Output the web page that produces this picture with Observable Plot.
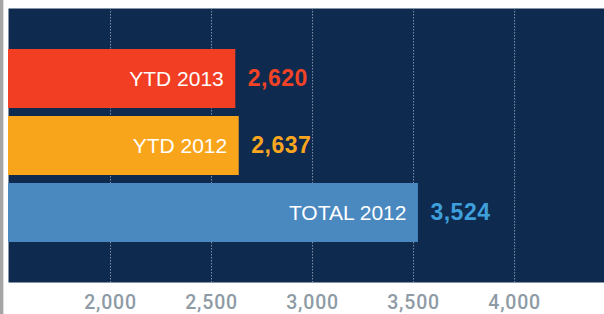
<!DOCTYPE html>
<html>
<head>
<meta charset="utf-8">
<script src="https://cdn.jsdelivr.net/npm/d3@7"></script>
<script src="https://cdn.jsdelivr.net/npm/@observablehq/plot@0.6"></script>
<style>
  html, body { margin: 0; padding: 0; background: #ffffff; }
  #wrap { position: relative; width: 604px; height: 314px; }
  #edge { position: absolute; left: 0; top: 0; width: 3px; height: 314px; background: #a5a5a5; }
  #edge2 { position: absolute; left: 3px; top: 0; width: 1px; height: 314px; background: #dedede; }
</style>
</head>
<body>
<div id="wrap"><div id="chart"></div><div id="edge"></div><div id="edge2"></div></div>
<script>
const categories = ["YTD 2013", "YTD 2012", "TOTAL 2012"];
const values = [2620, 2637, 3524];
const barColors = ["#f23e23", "#f9a51c", "#4a89bf"];
const labelColors = ["#f24326", "#f8a620", "#3f9fdb"];
const tickValues = [2000, 2500, 3000, 3500, 4000];

const navy = "#0e2a4f";
const fmt = d3.format(",");
const data = categories.map((c, i) => ({category: c, value: values[i], bar: barColors[i], label: labelColors[i]}));

const chart = Plot.plot({
  width: 604,
  height: 314,
  marginLeft: 8,
  marginRight: 0,
  marginTop: 8,
  marginBottom: 32,
  style: {fontFamily: "'Liberation Sans', Arial, Helvetica, sans-serif", background: "transparent"},
  x: {domain: [1495, 4445], axis: null, label: null},
  y: {domain: categories, paddingInner: 0.12, paddingOuter: 0.6, axis: null},
  marks: [
    Plot.frame({fill: navy, stroke: null}),
    Plot.gridX(tickValues, {stroke: "#8291ab", strokeOpacity: 1, strokeWidth: 1, strokeDasharray: "1.5,1.5"}),
    Plot.barX(data, {x1: 1495, x2: "value", y: "category", fill: d => d.bar}),
    Plot.text(data, {x: "value", y: "category", text: "category", dx: -12, textAnchor: "end", fill: "white", fontSize: 21}),
    Plot.text(data, {x: "value", y: "category", text: d => fmt(d.value), dx: 12, textAnchor: "start", fill: d => d.label, fontSize: 23, fontWeight: "bold"}),
    Plot.axisX(tickValues, {tickSize: 0, tickPadding: 13, fontSize: 19.5, fill: "#8e9ba5", tickFormat: fmt, label: null})
  ]
});
const texts = chart.querySelectorAll('g[aria-label="text"]');
if (texts[1]) texts[1].style.letterSpacing = "0.5px";
chart.querySelectorAll('g[aria-label="x-axis tick label"]').forEach(g => {
  g.style.letterSpacing = "0.8px";
  g.style.fontSize = "19.5px";
  g.style.fontFamily = "Roboto, 'Liberation Sans', Arial, sans-serif";
  g.style.fontWeight = "500";
});
document.getElementById("chart").appendChild(chart);
</script>
</body>
</html>
